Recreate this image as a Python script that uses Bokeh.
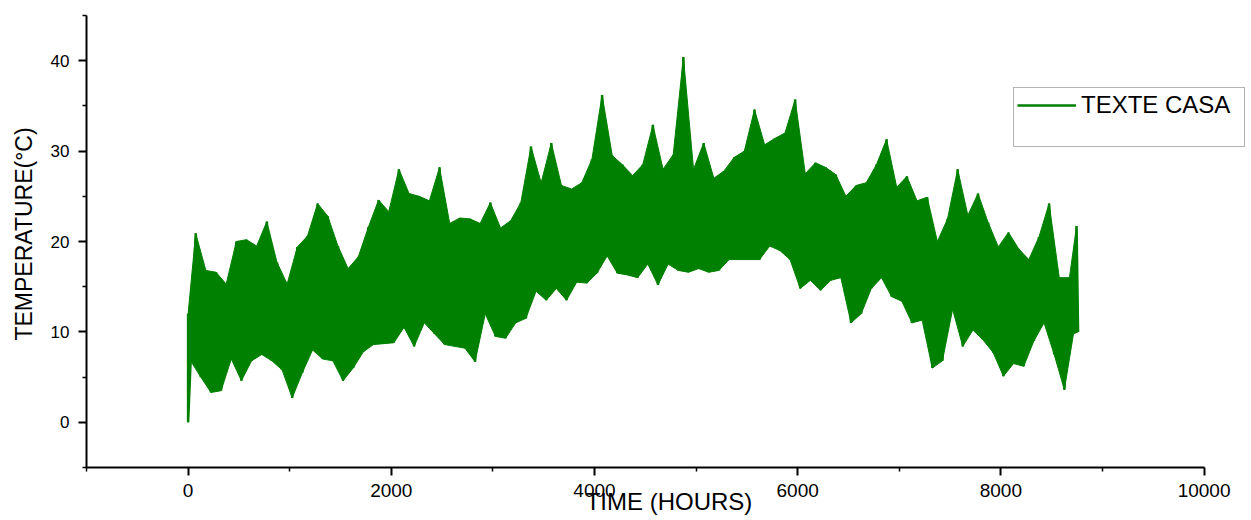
import numpy as np
from bokeh.plotting import figure
from bokeh.models import FixedTicker, Legend, LegendItem, Range1d
from bokeh.embed import file_html
from bokeh.resources import INLINE

# ---------------- data ----------------
series_name = "TEXTE CASA"
bin_width_hours = 100
bin_start_hours = list(range(0, 8760, bin_width_hours))   # 88 bins of 100 h
high_temps = [20.9, 16.8, 16.6, 15.3, 20.0, 20.2, 19.5, 22.2, 17.7, 15.3,
              19.4, 20.6, 24.2, 22.8, 19.5, 17.0, 18.3, 21.6, 24.6, 23.3,
              28.0, 25.3, 25.0, 24.5, 28.2, 22.0, 22.6, 22.5, 22.0, 24.3,
              21.5, 22.3, 24.3, 30.5, 26.5, 30.9, 26.2, 25.8, 26.5, 29.1,
              36.2, 29.5, 28.5, 27.3, 28.5, 32.9, 28.0, 29.6, 40.4, 28.0,
              30.9, 27.0, 27.8, 29.3, 30.0, 34.6, 30.7, 31.4, 32.0, 35.7,
              27.5, 28.7, 28.2, 27.4, 25.0, 26.2, 26.5, 28.5, 31.3, 26.0,
              27.2, 24.5, 24.9, 20.0, 22.5, 28.0, 22.9, 25.3, 22.1, 19.4,
              21.0, 19.2, 18.0, 20.5, 24.2, 16.0, 16.0, 21.7]
low_temps = [6.8, 5.0, 3.3, 3.5, 7.0, 4.6, 6.8, 7.5, 6.8, 5.8,
             2.7, 5.5, 8.0, 7.0, 6.8, 4.6, 6.0, 7.8, 8.6, 8.7,
             8.8, 10.5, 8.4, 11.0, 9.8, 8.6, 8.4, 8.2, 6.7, 12.0,
             9.5, 9.3, 11.0, 11.5, 14.5, 13.5, 14.8, 13.5, 15.5, 15.4,
             16.5, 18.4, 16.5, 16.3, 16.0, 17.5, 15.2, 17.5, 16.8, 16.6,
             17.0, 16.6, 16.8, 18.0, 18.0, 18.0, 18.0, 19.5, 19.0, 18.0,
             14.8, 15.7, 14.6, 15.7, 16.0, 11.0, 12.0, 14.8, 16.0, 13.9,
             13.4, 11.0, 11.3, 6.0, 6.8, 12.5, 8.4, 10.2, 9.1, 7.7,
             5.1, 6.5, 6.2, 9.0, 11.0, 7.5, 3.6, 9.8]
start_hour, start_temp, start_dip_temp = 0, 12.0, 0.0
end_hour, end_temp = 8760, 10.0

x_major_ticks = [0, 2000, 4000, 6000, 8000, 10000]
x_minor_ticks = [-1000, 1000, 3000, 5000, 7000, 9000]
y_major_ticks = [0, 10, 20, 30, 40]
y_minor_ticks = [-5, 5, 15, 25, 35, 45]

x_title = "TIME (HOURS)"
y_title = "TEMPERATURE(°C)"

# ---------------- drawing ----------------
GREEN = "#008000"
FONT = "Liberation Sans"

low_x, high_x = [], []
for h in bin_start_hours:
    w = min(bin_width_hours, end_hour - h)
    low_x.append(h + 0.25 * w)
    high_x.append(h + 0.75 * w)

# zig-zag trace through the hourly extremes
zx, zy = [start_hour, start_hour], [start_temp, start_dip_temp]
for lx, lv, hx, hv in zip(low_x, low_temps, high_x, high_temps):
    zx += [lx, hx]
    zy += [lv, hv]
zx.append(end_hour)
zy.append(end_temp)

# filled band between upper and lower envelopes
up_x = [start_hour] + high_x + [end_hour]
up_y = [start_temp] + high_temps + [end_temp]
lo_x = [start_hour] + low_x + [end_hour]
lo_y = [start_dip_temp] + low_temps + [end_temp]
band_x = up_x + lo_x[::-1]
band_y = up_y + lo_y[::-1]

# frame spans the whole canvas width/top; axes are bounded to the data box
p = figure(width=1251, height=520,
           x_range=Range1d(-1000, 10467), y_range=Range1d(-5, 46.66),
           output_backend="svg", toolbar_location=None,
           min_border_left=86, min_border_right=0,
           min_border_top=0, min_border_bottom=53)
p.outline_line_color = None
p.xgrid.visible = False
p.ygrid.visible = False
p.background_fill_color = "white"
p.border_fill_color = "white"

p.patch(band_x, band_y, fill_color=GREEN, line_color=GREEN, line_width=1)
line_r = p.line(zx, zy, line_color=GREEN, line_width=2.5)
blank_r = p.line([], [], line_alpha=0)

p.xaxis.ticker = FixedTicker(ticks=x_major_ticks, minor_ticks=x_minor_ticks)
p.yaxis.ticker = FixedTicker(ticks=y_major_ticks, minor_ticks=y_minor_ticks)
p.xaxis.bounds = (-1000, 10000)
p.yaxis.bounds = (-5, 45)

for ax in (p.xaxis[0], p.yaxis[0]):
    ax.axis_line_width = 2
    ax.axis_line_color = "black"
    ax.major_tick_line_width = 2
    ax.minor_tick_line_width = 1.5
    ax.major_tick_line_color = "black"
    ax.minor_tick_line_color = "black"
    ax.major_tick_in = 0
    ax.major_tick_out = 8
    ax.minor_tick_in = 0
    ax.minor_tick_out = 4
    ax.major_label_text_font = FONT
    ax.major_label_text_color = "black"
    ax.axis_label_text_font = FONT
    ax.axis_label_text_font_style = "normal"
    ax.axis_label_text_color = "black"

p.xaxis.major_label_text_font_size = "19px"
p.xaxis.major_label_standoff = 8
p.xaxis.axis_label = x_title
p.xaxis.axis_label_text_font_size = "24px"
p.xaxis.axis_label_standoff = -12

p.yaxis.major_label_text_font_size = "17px"
p.yaxis.major_label_standoff = 9
p.yaxis.axis_label = y_title
p.yaxis.axis_label_text_font_size = "23px"
p.yaxis.axis_label_standoff = 11

legend = Legend(items=[LegendItem(label=series_name, renderers=[line_r]),
                       LegendItem(label=" ", renderers=[blank_r])],
                location=(927, 320), padding=3, spacing=0, margin=0,
                glyph_width=59, glyph_height=24, label_height=24,
                label_width=160, label_standoff=5,
                label_text_font=FONT, label_text_font_size="24px",
                label_text_color="black",
                border_line_color="#666666", border_line_width=1.5,
                background_fill_color="white", background_fill_alpha=1.0)
p.add_layout(legend)

open("out.html", "w").write(file_html(p, INLINE))
